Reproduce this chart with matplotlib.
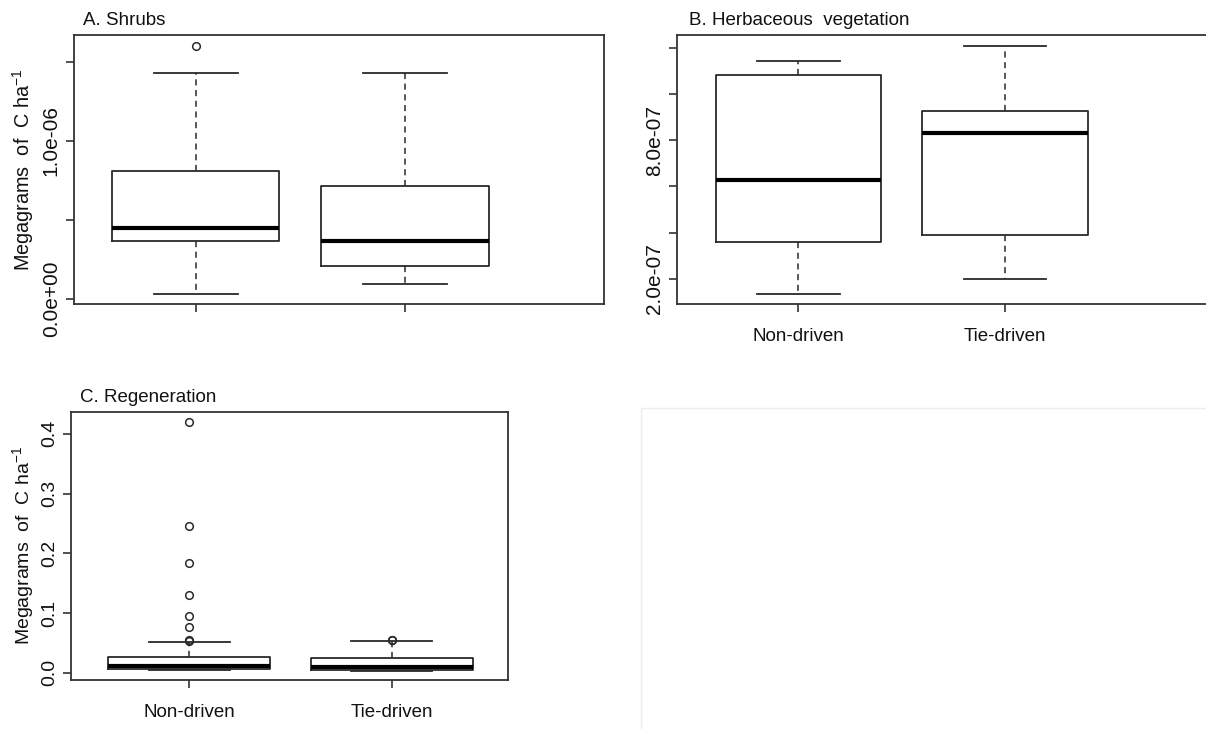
import matplotlib.pyplot as plt
from matplotlib.patches import Rectangle
from matplotlib.ticker import FixedLocator, FixedFormatter

plt.rcParams['font.family'] = ['Liberation Sans', 'DejaVu Sans']
plt.rcParams['mathtext.fontset'] = 'custom'
plt.rcParams['mathtext.rm'] = 'Liberation Sans'
plt.rcParams['mathtext.it'] = 'Liberation Sans:italic'

groups = ['Non-driven', 'Tie-driven']

# A. Shrubs
shrub_whislo = [0.034e-6, 0.093e-6]
shrub_q1 = [0.369e-6, 0.209e-6]
shrub_med = [0.447e-6, 0.365e-6]
shrub_q3 = [0.812e-6, 0.717e-6]
shrub_whishi = [1.428e-6, 1.428e-6]
shrub_fliers = [[1.599e-6], []]

# B. Herbaceous vegetation
herb_whislo = [1.35e-7, 2.0e-7]
herb_q1 = [3.59e-7, 3.89e-7]
herb_med = [6.27e-7, 8.30e-7]
herb_q3 = [10.84e-7, 9.27e-7]
herb_whishi = [11.45e-7, 12.1e-7]
herb_fliers = [[], []]

# C. Regeneration
regen_whislo = [0.005, 0.003]
regen_q1 = [0.0065, 0.0045]
regen_med = [0.0105, 0.0095]
regen_q3 = [0.0255, 0.0251]
regen_whishi = [0.0514, 0.0536]
regen_fliers = [[0.419, 0.246, 0.183, 0.130, 0.0955, 0.0766, 0.055, 0.0535],
                [0.0548, 0.0552]]

ylab = 'Megagrams  of  C ha$^{-1}$'
line_col = '#2a2a2a'
txt_col = '#111111'


def make_stats(whislo, q1, med, q3, whishi, fliers):
    stats = []
    for i in range(len(groups)):
        stats.append(dict(whislo=whislo[i], q1=q1[i], med=med[i], q3=q3[i],
                          whishi=whishi[i], fliers=fliers[i], label=groups[i]))
    return stats


def draw_box(ax, stats, ysize):
    ax.bxp(stats, positions=[1, 2], widths=0.8, capwidths=0.4, manage_ticks=False,
           boxprops=dict(color=line_col, linewidth=1.3),
           medianprops=dict(color='black', linewidth=3, solid_capstyle='butt'),
           whiskerprops=dict(color=line_col, linewidth=1.1, linestyle=(0, (4, 3))),
           capprops=dict(color=line_col, linewidth=1.3),
           flierprops=dict(marker='o', markerfacecolor='none', markeredgecolor=line_col,
                           markersize=5.5, markeredgewidth=1.1))
    for s in ax.spines.values():
        s.set_color('#333333')
        s.set_linewidth(1.3)
    ax.set_xticks([1, 2])
    ax.tick_params(axis='both', length=6, width=1.2, color='#333333', labelcolor=txt_col)
    ax.tick_params(axis='x', pad=11, labelsize=13.5)
    ax.tick_params(axis='y', labelrotation=90, pad=3.5, labelsize=ysize)
    for lab in ax.get_yticklabels():
        lab.set_va('center')


fig = plt.figure(figsize=(12.06, 7.29), dpi=100)

# panel A
axA = fig.add_axes([74 / 1206, 1 - 304 / 729, 530 / 1206, 269 / 729])
draw_box(axA, make_stats(shrub_whislo, shrub_q1, shrub_med, shrub_q3, shrub_whishi, shrub_fliers), 15)
axA.set_xlim(0.4186, 2.951)
axA.set_ylim(-0.032e-6, 1.671e-6)
axA.yaxis.set_major_locator(FixedLocator([0, 0.5e-6, 1.0e-6, 1.5e-6]))
axA.yaxis.set_major_formatter(FixedFormatter(['0.0e+00', '', '1.0e-06', '']))
axA.set_xticklabels(['', ''])
axA.set_ylabel(ylab, fontsize=14.3, color=txt_col, va='center')
axA.yaxis.set_label_coords(-0.097, 0.5)
axA.text(0.0164, 1 + 10 / 269, 'A. Shrubs', transform=axA.transAxes,
         fontsize=13.5, color=txt_col, va='baseline', ha='left')

# panel B
axB = fig.add_axes([677 / 1206, 1 - 304 / 729, 538 / 1206, 269 / 729])
draw_box(axB, make_stats(herb_whislo, herb_q1, herb_med, herb_q3, herb_whishi, herb_fliers), 15)
axB.set_xlim(0.413, 3.016)
axB.set_ylim(0.903e-7, 12.56e-7)
axB.yaxis.set_major_locator(FixedLocator([2e-7, 4e-7, 6e-7, 8e-7, 10e-7, 12e-7]))
axB.yaxis.set_major_formatter(FixedFormatter(['2.0e-07', '', '', '8.0e-07', '', '']))
axB.set_xticklabels(groups)
axB.text(12 / 538, 1 + 10 / 269, 'B. Herbaceous  vegetation', transform=axB.transAxes,
         fontsize=13.5, color=txt_col, va='baseline', ha='left')

# panel C
axC = fig.add_axes([71 / 1206, 1 - 680 / 729, 437.3 / 1206, 268.3 / 729])
draw_box(axC, make_stats(regen_whislo, regen_q1, regen_med, regen_q3, regen_whishi, regen_fliers), 14)
axC.set_xlim(0.415, 2.576)
axC.set_ylim(-0.0122, 0.437)
axC.yaxis.set_major_locator(FixedLocator([0.0, 0.1, 0.2, 0.3, 0.4]))
axC.yaxis.set_major_formatter(FixedFormatter(['0.0', '0.1', '0.2', '0.3', '0.4']))
axC.set_xticklabels(groups)
axC.set_ylabel(ylab, fontsize=14, color=txt_col, va='center')
axC.yaxis.set_label_coords(-0.11, 0.5)
axC.text(9 / 437.3, 1 + 10 / 268.3, 'C. Regeneration', transform=axC.transAxes,
         fontsize=13.5, color=txt_col, va='baseline', ha='left')

# empty fourth slot
fig.patches.append(Rectangle((641 / 1206, -0.01), 0.5, 1 - 408 / 729 + 0.01,
                             transform=fig.transFigure, fill=False,
                             edgecolor='#eeeeee', linewidth=1))

fig.savefig('out.png', dpi=100)
